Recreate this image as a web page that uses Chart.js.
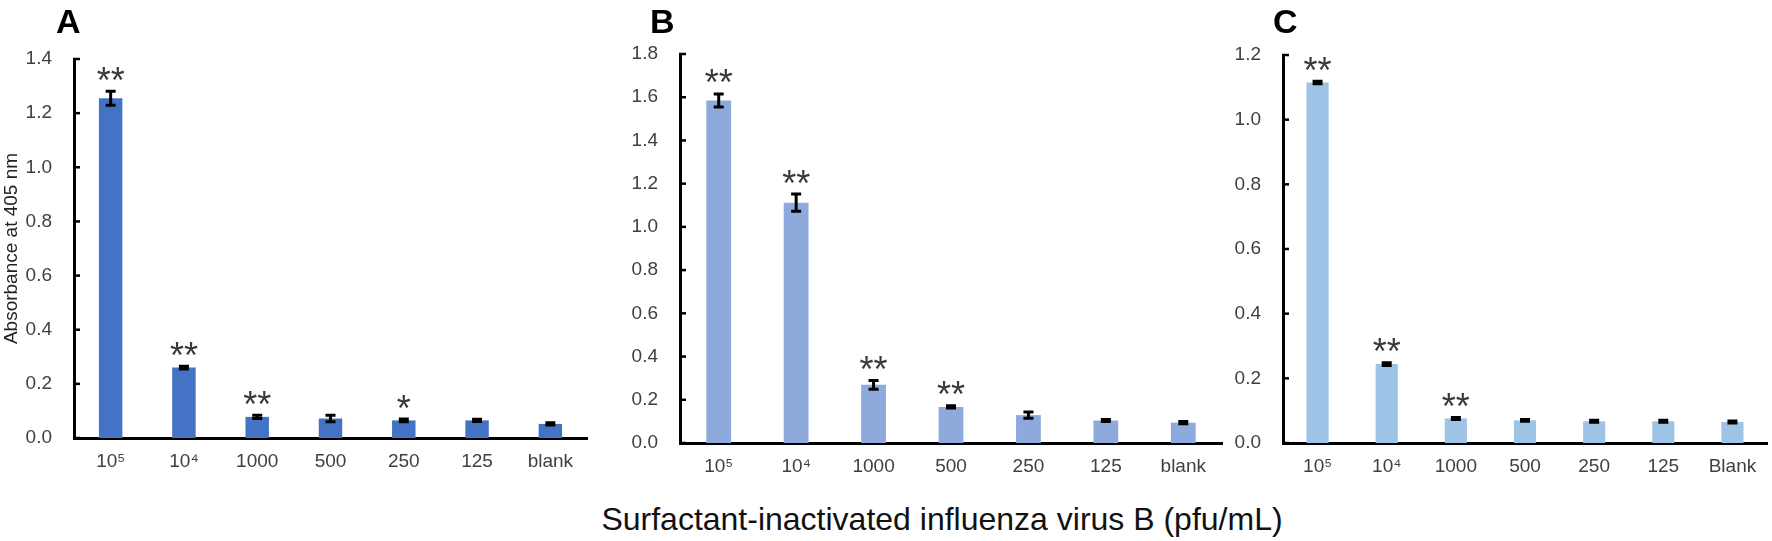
<!DOCTYPE html>
<html>
<head>
<meta charset="utf-8">
<script src="https://cdn.jsdelivr.net/npm/chart.js@4.4.0/dist/chart.umd.min.js"></script>
<style>
  html, body { margin: 0; padding: 0; background: #fff; }
  body { width: 1772px; height: 541px; position: relative; overflow: hidden;
         font-family: "Liberation Sans", Arial, sans-serif; }
  .panel { position: absolute; top: 0; height: 490px; }
  .letter { position: absolute; top: 4px; font-size: 34px; line-height: 34px;
            font-weight: bold; color: #000; }
  #xtitle { position: absolute; top: 503px; left: 0; width: 1884px; text-align: center;
            font-size: 32px; line-height: 32px; color: #111; white-space: nowrap; }
</style>
</head>
<body>
<div class="panel" style="left:0;width:600px"><canvas id="chartA"></canvas></div>
<div class="panel" style="left:600px;width:625px"><canvas id="chartB"></canvas></div>
<div class="panel" style="left:1225px;width:547px"><canvas id="chartC"></canvas></div>
<div class="letter" style="left:56px">A</div>
<div class="letter" style="left:650px">B</div>
<div class="letter" style="left:1273px">C</div>
<div id="xtitle">Surfactant-inactivated influenza virus B (pfu/mL)</div>

<script>
// Datos
const labelsAB = ["10⁵", "10⁴", "1000", "500", "250", "125", "blank"];
const labelsC = ["10⁵", "10⁴", "1000", "500", "250", "125", "Blank"];

const valuesA = [1.255, 0.26, 0.078, 0.072, 0.065, 0.065, 0.052];
const errorsA = [0.026, 0.005, 0.006, 0.012, 0.005, 0.004, 0.004];
const starsA = ["**", "**", "**", "", "*", "", ""];

const valuesB = [1.585, 1.112, 0.269, 0.167, 0.129, 0.104, 0.094];
const errorsB = [0.03, 0.04, 0.02, 0.005, 0.015, 0.005, 0.005];
const starsB = ["**", "**", "**", "**", "", "", ""];

const valuesC = [1.115, 0.244, 0.076, 0.07, 0.067, 0.067, 0.065];
const errorsC = [0.004, 0.004, 0.003, 0.003, 0.003, 0.003, 0.003];
const starsC = ["**", "**", "**", "", "", "", ""];

const yMaxA = 1.4, yMaxB = 1.8, yMaxC = 1.2;
const yStep = 0.2;

const FONT = "'Liberation Sans', Arial, sans-serif";

// Barras de error, asteriscos y marcas del eje Y hacia dentro
const extrasPlugin = {
    id: "extras",
    afterDatasetsDraw(chart, args, opts) {
        const ctx = chart.ctx;
        const yScale = chart.scales.y;
        const meta = chart.getDatasetMeta(0);
        const values = chart.data.datasets[0].data;
        ctx.save();
        ctx.strokeStyle = "#000";
        ctx.lineWidth = 3;
        meta.data.forEach((bar, i) => {
            const e = opts.errors[i];
            const yTop = yScale.getPixelForValue(values[i] + e);
            const yBot = yScale.getPixelForValue(values[i] - e);
            ctx.beginPath();
            ctx.moveTo(bar.x, yTop);
            ctx.lineTo(bar.x, yBot);
            ctx.moveTo(bar.x - 5, yTop);
            ctx.lineTo(bar.x + 5, yTop);
            ctx.moveTo(bar.x - 5, yBot);
            ctx.lineTo(bar.x + 5, yBot);
            ctx.stroke();
            if (opts.stars[i]) {
                ctx.fillStyle = "#3a3a3a";
                ctx.font = "36px " + FONT;
                ctx.textAlign = "center";
                ctx.textBaseline = "alphabetic";
                ctx.fillText(opts.stars[i], bar.x, yTop + 1.5);
            }
        });
        // marcas del eje Y
        const x0 = chart.chartArea.left;
        ctx.lineWidth = 2.5;
        yScale.ticks.forEach((t, i) => {
            const y = yScale.getPixelForTick(i);
            ctx.beginPath();
            ctx.moveTo(x0 - 1, y);
            ctx.lineTo(x0 + 6, y);
            ctx.stroke();
        });
        ctx.restore();
    }
};

function makeChart(id, labels, values, errors, stars, yMax, color, yWidth, padTop, padRight, xHeight, yTitle) {
    return new Chart(document.getElementById(id), {
        type: "bar",
        data: {
            labels: labels,
            datasets: [{
                data: values,
                backgroundColor: color,
                borderWidth: 0,
                barPercentage: 0.32,
                categoryPercentage: 1,
            }],
        },
        options: {
            responsive: true,
            maintainAspectRatio: false,
            animation: false,
            layout: { padding: { top: padTop, right: padRight, left: 0, bottom: 0 } },
            scales: {
                x: {
                    grid: { display: false, drawTicks: false },
                    border: { display: true, color: "#000", width: 3 },
                    ticks: {
                        color: "#404040",
                        padding: 12,
                        font: { family: FONT, size: 19 },
                        maxRotation: 0,
                        autoSkip: false,
                    },
                    afterFit(scale) { scale.height = xHeight; },
                },
                y: {
                    min: 0,
                    max: yMax,
                    grid: { display: false, drawTicks: false },
                    border: { display: true, color: "#000", width: 3 },
                    ticks: {
                        stepSize: yStep,
                        color: "#404040",
                        padding: 22,
                        font: { family: FONT, size: 19 },
                        callback: (v) => v.toFixed(1),
                    },
                    title: {
                        display: !!yTitle,
                        text: yTitle || "",
                        color: "#222",
                        font: { family: FONT, size: 19 },
                        padding: { top: 0, bottom: 0 },
                    },
                    afterFit(scale) { scale.width = yWidth; },
                },
            },
            plugins: {
                legend: { display: false },
                tooltip: { enabled: false },
                extras: { errors: errors, stars: stars },
            },
        },
        plugins: [extrasPlugin],
    });
}

makeChart("chartA", labelsAB, valuesA, errorsA, starsA, yMaxA, "#4472C4", 74, 59, 13, 52, "Absorbance at 405 nm");
makeChart("chartB", labelsAB, valuesB, errorsB, starsB, yMaxB, "#8EA9DB", 80, 54, 3, 47, null);
makeChart("chartC", labelsC, valuesC, errorsC, starsC, yMaxC, "#9DC3E6", 58, 55, 5, 47, null);
</script>
</body>
</html>
